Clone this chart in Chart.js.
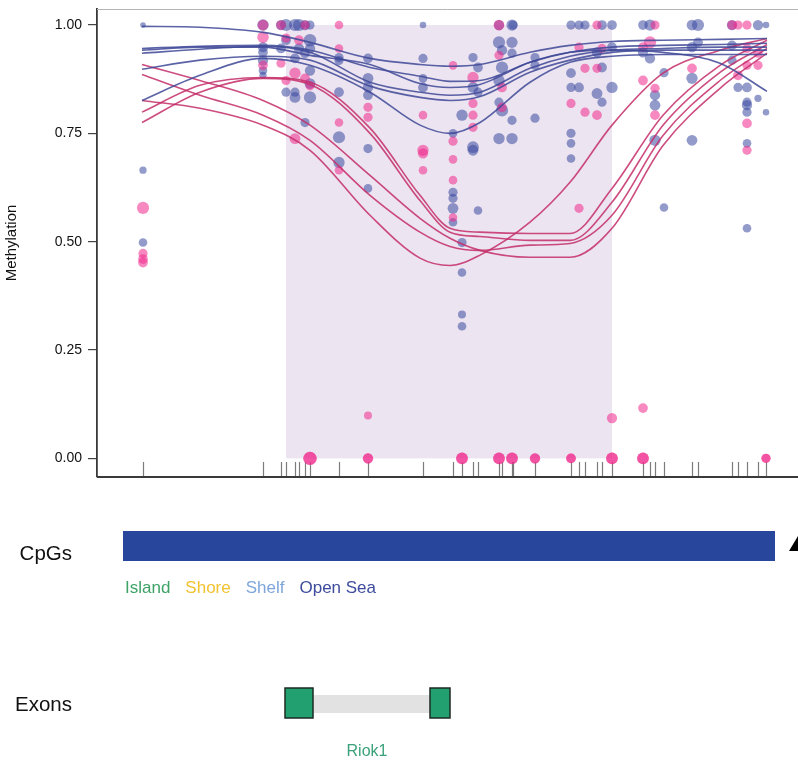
<!DOCTYPE html>
<html>
<head>
<meta charset="utf-8">
<script src="https://cdn.jsdelivr.net/npm/chart.js@4.4.1/dist/chart.umd.min.js"></script>
<style>
  html, body { margin: 0; padding: 0; background: #fff; }
</style>
</head>
<body>
<canvas id="myChart" width="798" height="769"></canvas>
<script>
// positions are bp offsets inside the plotted window
const cpgPos = [46, 166, 184, 189, 198, 202, 208, 213, 242, 271, 326, 356, 365, 376, 381, 402, 405, 415, 416,
                438, 474, 482, 488, 500, 505, 515, 546, 553, 558, 567, 595, 601, 635, 641, 650, 661, 669]
const dmrRange = [189, 515]
const cpgIsland = [26, 678]
const exons = [[188, 216], [333, 353]]
const geneName = 'Riok1'
const geneCenter = 270
const yTicks = [0, 0.25, 0.5, 0.75, 1]
const cpgLegend = ['Island', 'Shore', 'Shelf', 'Open Sea']
const cpgLegendColors = ['#3ea266', '#f2c230', '#7ea6dc', '#3d4c9e']

// smoothed methylation per sample
const curveX = [45, 103, 166, 213, 273, 323, 353, 383, 433, 473, 515, 566, 623, 670]
const blueCurves = [
    [0.997, 0.995, 0.983, 0.960, 0.923, 0.909, 0.905, 0.909, 0.937, 0.953, 0.962, 0.965, 0.967, 0.969],
    [0.946, 0.951, 0.953, 0.942, 0.902, 0.882, 0.870, 0.872, 0.914, 0.937, 0.949, 0.953, 0.955, 0.958],
    [0.935, 0.944, 0.951, 0.937, 0.868, 0.845, 0.838, 0.845, 0.900, 0.928, 0.942, 0.946, 0.949, 0.949],
    [0.898, 0.919, 0.928, 0.919, 0.859, 0.833, 0.826, 0.835, 0.891, 0.919, 0.937, 0.942, 0.942, 0.942],
    [0.826, 0.884, 0.923, 0.907, 0.845, 0.769, 0.750, 0.775, 0.868, 0.914, 0.928, 0.932, 0.932, 0.932],
    [0.942, 0.949, 0.949, 0.930, 0.909, 0.865, 0.856, 0.863, 0.914, 0.937, 0.942, 0.937, 0.912, 0.847]
]
const pinkCurves = [
    [0.826, 0.808, 0.769, 0.711, 0.561, 0.462, 0.445, 0.469, 0.545, 0.637, 0.769, 0.889, 0.942, 0.969],
    [0.909, 0.872, 0.826, 0.769, 0.653, 0.554, 0.508, 0.480, 0.464, 0.464, 0.531, 0.722, 0.854, 0.935],
    [0.886, 0.838, 0.792, 0.734, 0.607, 0.522, 0.489, 0.480, 0.492, 0.496, 0.561, 0.745, 0.872, 0.946],
    [0.799, 0.861, 0.879, 0.868, 0.762, 0.607, 0.531, 0.522, 0.519, 0.519, 0.623, 0.792, 0.907, 0.965],
    [0.775, 0.845, 0.877, 0.863, 0.750, 0.595, 0.522, 0.512, 0.503, 0.503, 0.591, 0.769, 0.891, 0.955]
]

// [position, methylation, coverage]
const bluePoints = [
    [46, 1.00, 6], [46, 0.665, 10], [46, 0.498, 14],
    [166, 1.00, 25], [166, 0.949, 20], [166, 0.937, 18], [166, 0.918, 20], [166, 0.895, 14], [166, 0.884, 10],
    [184, 1.00, 20], [184, 0.946, 18],
    [189, 1.00, 28], [189, 0.965, 18], [189, 0.845, 16],
    [198, 1.00, 28], [198, 0.923, 18], [198, 0.833, 22], [198, 0.845, 16],
    [202, 1.00, 28], [202, 0.946, 20],
    [208, 1.00, 20], [208, 0.935, 18], [208, 0.775, 16],
    [213, 1.00, 16], [213, 0.965, 30], [213, 0.946, 20], [213, 0.895, 20], [213, 0.865, 22], [213, 0.833, 28],
    [242, 0.925, 16], [242, 0.918, 16], [242, 0.845, 18], [242, 0.741, 28], [242, 0.683, 24],
    [271, 0.923, 18], [271, 0.877, 22], [271, 0.856, 20], [271, 0.838, 18], [271, 0.715, 16], [271, 0.623, 14],
    [326, 1.00, 8], [326, 0.923, 16], [326, 0.877, 14], [326, 0.856, 18],
    [356, 0.750, 14], [356, 0.614, 16], [356, 0.600, 16], [356, 0.577, 22], [356, 0.545, 14],
    [365, 0.792, 24], [365, 0.498, 16], [365, 0.429, 14], [365, 0.332, 12], [365, 0.305, 14],
    [376, 0.925, 16], [376, 0.856, 22], [376, 0.718, 26], [376, 0.711, 22],
    [381, 0.902, 18], [381, 0.845, 16], [381, 0.572, 14],
    [402, 1.00, 20], [402, 0.960, 28], [402, 0.872, 24], [402, 0.822, 16], [402, 0.738, 24],
    [405, 0.942, 20], [405, 0.902, 28], [405, 0.803, 28],
    [415, 1.00, 24], [415, 0.960, 24], [415, 0.935, 16], [415, 0.780, 16], [415, 0.738, 24],
    [416, 1.00, 16],
    [438, 0.925, 16], [438, 0.907, 16], [438, 0.785, 16],
    [474, 1.00, 16], [474, 0.889, 18], [474, 0.856, 16], [474, 0.750, 16], [474, 0.727, 14], [474, 0.692, 14],
    [482, 1.00, 16], [482, 0.856, 18],
    [488, 1.00, 16],
    [500, 0.937, 20], [500, 0.842, 22],
    [505, 1.00, 18], [505, 0.902, 18], [505, 0.822, 16],
    [515, 1.00, 18], [515, 0.949, 18], [515, 0.856, 24],
    [546, 1.00, 18], [546, 0.937, 20],
    [553, 1.00, 24], [553, 0.923, 20],
    [558, 0.838, 20], [558, 0.815, 22], [558, 0.734, 24],
    [567, 0.890, 16], [567, 0.579, 14],
    [595, 1.00, 22], [595, 0.949, 20], [595, 0.877, 24], [595, 0.734, 22],
    [601, 1.00, 28], [601, 0.960, 18],
    [635, 1.00, 20], [635, 0.953, 18], [635, 0.919, 16],
    [641, 0.856, 16],
    [650, 0.856, 18], [650, 0.822, 16], [650, 0.815, 20], [650, 0.799, 16], [650, 0.727, 14], [650, 0.531, 14],
    [661, 1.00, 20], [661, 0.831, 10],
    [669, 1.00, 8], [669, 0.799, 8]
]
const pinkPoints = [
    [46, 0.578, 28], [46, 0.473, 16], [46, 0.460, 18], [46, 0.452, 18],
    [166, 1.00, 22], [166, 0.972, 25], [166, 0.907, 18],
    [184, 1.00, 18], [184, 0.912, 16],
    [189, 0.970, 16], [189, 0.872, 16],
    [198, 0.889, 24], [198, 0.738, 22],
    [202, 0.965, 18],
    [208, 1.00, 16], [208, 0.877, 18],
    [213, 0.860, 16], [213, 0, 34], [213, 0, 34],
    [242, 1.00, 14], [242, 0.946, 14], [242, 0.775, 14], [242, 0.665, 14],
    [271, 0.810, 16], [271, 0.787, 16], [271, 0.099, 12], [271, 0, 20], [271, 0, 20],
    [326, 0.792, 14], [326, 0.711, 24], [326, 0.704, 20], [326, 0.665, 14],
    [356, 0.907, 14], [356, 0.732, 16], [356, 0.690, 14], [356, 0.642, 14], [356, 0.556, 14],
    [365, 0, 26], [365, 0, 26],
    [376, 0.879, 24], [376, 0.819, 16], [376, 0.792, 16], [376, 0.764, 16],
    [402, 1.00, 22], [402, 0.930, 16], [402, 0, 26], [402, 0, 26],
    [405, 0.856, 18], [405, 0.810, 18],
    [415, 0, 26], [415, 0, 26],
    [438, 0, 20], [438, 0, 20],
    [474, 0.819, 16], [474, 0, 18], [474, 0, 18],
    [482, 0.949, 16], [482, 0.577, 16],
    [488, 0.900, 16], [488, 0.799, 16],
    [500, 1.00, 16], [500, 0.900, 16], [500, 0.792, 18],
    [505, 0.946, 16],
    [515, 0.093, 20], [515, 0, 26], [515, 0, 26],
    [546, 0.949, 18], [546, 0.872, 18], [546, 0.116, 18], [546, 0, 26], [546, 0, 26],
    [553, 0.960, 28],
    [558, 1.00, 16], [558, 0.854, 16], [558, 0.792, 18],
    [595, 0.900, 18],
    [635, 1.00, 18],
    [641, 1.00, 16], [641, 0.884, 18],
    [650, 1.00, 16], [650, 0.946, 16], [650, 0.907, 16], [650, 0.773, 18], [650, 0.711, 16],
    [661, 0.935, 16], [661, 0.907, 16],
    [669, 0, 16], [669, 0, 16]
]

const FONT = "'Liberation Sans', Arial, sans-serif"
Chart.defaults.font.family = FONT

const toXY = p => ({ x: p[0], y: p[1], cov: p[2] })
const covRadius = ctx => ctx.raw ? 1.15 * Math.sqrt(ctx.raw.cov) : 3

const curveSet = (vals, color) => ({
    type: 'line',
    data: vals.map((v, i) => ({ x: curveX[i], y: v })),
    borderColor: color,
    borderWidth: 1.6,
    pointRadius: 0,
    cubicInterpolationMode: 'monotone',
    fill: false,
    order: 1
})

const datasets = [
    { data: bluePoints.map(toXY), backgroundColor: 'rgba(58,72,160,0.55)', borderWidth: 0, pointRadius: covRadius, order: 3 },
    { data: pinkPoints.map(toXY), backgroundColor: 'rgba(240,40,140,0.55)', borderWidth: 0, pointRadius: covRadius, order: 2 },
    ...blueCurves.map(c => curveSet(c, 'rgba(62,72,150,0.85)')),
    ...pinkCurves.map(c => curveSet(c, 'rgba(196,45,105,0.85)'))
]

const noPad = s => { s.paddingTop = 0; s.paddingBottom = 0; s.paddingLeft = 0; s.paddingRight = 0 }

const tracks = {
    id: 'tracks',
    beforeDatasetsDraw(chart) {
        const { ctx, chartArea: a, scales: { x, y } } = chart
        ctx.save()
        // DMR shading
        const x0 = x.getPixelForValue(dmrRange[0]), x1 = x.getPixelForValue(dmrRange[1])
        ctx.fillStyle = '#ece4f0'
        ctx.fillRect(x0, y.getPixelForValue(1), x1 - x0, y.getPixelForValue(0) - y.getPixelForValue(1))
        // rug of CpG sites
        ctx.strokeStyle = 'rgba(80,80,80,0.75)'
        ctx.lineWidth = 1.2
        cpgPos.forEach(p => {
            const px = Math.round(x.getPixelForValue(p)) + 0.5
            ctx.beginPath()
            ctx.moveTo(px, a.bottom - 15)
            ctx.lineTo(px, a.bottom - 1)
            ctx.stroke()
        })
        ctx.restore()
    },
    afterDraw(chart) {
        const { ctx, chartArea: a, scales: { x } } = chart
        ctx.save()
        // frame lines
        ctx.strokeStyle = '#b5b5b5'
        ctx.lineWidth = 1
        ctx.beginPath(); ctx.moveTo(a.left, a.top + 0.5); ctx.lineTo(a.right, a.top + 0.5); ctx.stroke()
        ctx.strokeStyle = '#3a3a3a'
        ctx.lineWidth = 1.8
        ctx.beginPath(); ctx.moveTo(a.left, a.bottom); ctx.lineTo(a.right, a.bottom); ctx.stroke()

        // CpG track
        const cpgTop = a.bottom + 54
        ctx.fillStyle = '#28469b'
        const c0 = x.getPixelForValue(cpgIsland[0]), c1 = x.getPixelForValue(cpgIsland[1])
        ctx.fillRect(c0, cpgTop, c1 - c0, 30)
        ctx.font = '20.5px ' + FONT
        ctx.fillStyle = '#111'
        ctx.textAlign = 'right'
        ctx.textBaseline = 'middle'
        ctx.fillText('CpGs', 72, cpgTop + 23)
        ctx.font = '17px ' + FONT
        ctx.textAlign = 'left'
        let lx = c0 + 2
        cpgLegend.forEach((t, i) => {
            ctx.fillStyle = cpgLegendColors[i]
            ctx.fillText(t, lx, cpgTop + 57)
            lx += ctx.measureText(t).width + 15
        })

        // black marker cut off at the right edge
        ctx.fillStyle = '#000'
        ctx.beginPath()
        ctx.moveTo(798, cpgTop + 5); ctx.lineTo(789, cpgTop + 20); ctx.lineTo(798, cpgTop + 20)
        ctx.closePath(); ctx.fill()

        // exon track
        const exMid = a.bottom + 226
        ctx.fillStyle = '#111'
        ctx.font = '20.5px ' + FONT
        ctx.textAlign = 'right'
        ctx.fillText('Exons', 72, exMid + 2)
        const e0 = x.getPixelForValue(exons[0][1]), e1 = x.getPixelForValue(exons[1][0])
        ctx.fillStyle = '#e2e2e2'
        ctx.fillRect(e0, exMid - 8, e1 - e0, 18)
        exons.forEach(e => {
            const p0 = x.getPixelForValue(e[0]), p1 = x.getPixelForValue(e[1])
            ctx.fillStyle = '#22a06f'
            ctx.fillRect(p0, exMid - 15, p1 - p0, 30)
            ctx.strokeStyle = '#1d2b24'
            ctx.lineWidth = 1.5
            ctx.strokeRect(p0, exMid - 15, p1 - p0, 30)
        })
        ctx.fillStyle = '#3ba27a'
        ctx.font = '16px ' + FONT
        ctx.textAlign = 'center'
        ctx.fillText(geneName, x.getPixelForValue(geneCenter), exMid + 49)
        ctx.restore()
    }
}

new Chart(document.getElementById('myChart'), {
    type: 'scatter',
    data: { datasets },
    options: {
        responsive: false,
        animation: false,
        devicePixelRatio: 1,
        layout: { autoPadding: false, padding: { left: 0, right: 0, top: 9, bottom: 292 } },
        plugins: { legend: { display: false }, tooltip: { enabled: false } },
        scales: {
            x: {
                type: 'linear', min: 0, max: 701,
                display: true,
                grid: { display: false, drawTicks: false },
                ticks: { display: false },
                border: { display: false },
                afterFit(s) { s.height = 0; noPad(s) }
            },
            y: {
                min: -0.043, max: 1.037,
                afterBuildTicks(s) { s.ticks = yTicks.map(v => ({ value: v })) },
                ticks: { callback: v => v.toFixed(2), color: '#111', font: { size: 14 }, padding: 6 },
                grid: { drawOnChartArea: false, tickLength: 9, color: '#444', lineWidth: 1.2 },
                border: { display: true, color: '#3a3a3a', width: 1.8 },
                title: { display: true, text: 'Methylation', color: '#111', font: { size: 15 }, padding: { top: 3, bottom: 0 } },
                afterFit(s) { s.width = 97; noPad(s) }
            }
        }
    },
    plugins: [tracks]
})
</script>
</body>
</html>
